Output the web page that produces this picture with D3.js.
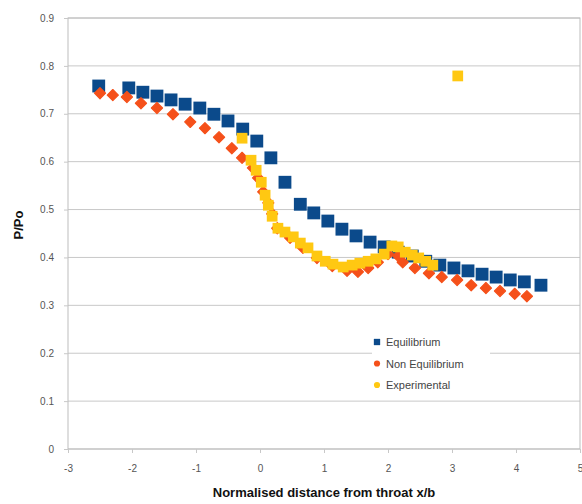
<!DOCTYPE html>
<html><head><meta charset="utf-8">
<script src="https://cdn.jsdelivr.net/npm/d3@7"></script>
<style>body{margin:0;background:#fff}svg{display:block}text{font-family:"Liberation Sans",Arial,sans-serif}</style>
</head><body>
<script>
const xTicks = [-3,-2,-1,0,1,2,3,4,5];
const yTicks = [0,0.1,0.2,0.3,0.4,0.5,0.6,0.7,0.8,0.9];
const seriesNames = ["Equilibrium","Non Equilibrium","Experimental"];

const eqX = [-2.52,-2.05,-1.83,-1.61,-1.39,-1.17,-0.94,-0.72,-0.50,-0.27,-0.05,0.17,0.39,0.63,0.84,1.06,1.28,1.50,1.72,1.94,2.16,2.38,2.59,2.81,3.03,3.25,3.47,3.69,3.91,4.13,4.39];
const eqY = [0.758,0.754,0.745,0.737,0.729,0.720,0.712,0.699,0.685,0.668,0.643,0.608,0.557,0.511,0.493,0.476,0.459,0.445,0.432,0.422,0.411,0.403,0.392,0.384,0.378,0.372,0.365,0.359,0.353,0.349,0.342];

const neX = [-2.50,-2.30,-2.08,-1.86,-1.61,-1.36,-1.09,-0.86,-0.64,-0.44,-0.28,-0.11,-0.03,0.05,0.13,0.19,0.27,0.47,0.67,0.89,1.13,1.36,1.53,1.69,1.84,2.00,2.16,2.23,2.42,2.64,2.84,3.08,3.30,3.53,3.75,3.98,4.17];
const neY = [0.743,0.739,0.735,0.722,0.712,0.699,0.683,0.670,0.651,0.628,0.608,0.587,0.566,0.537,0.514,0.491,0.461,0.441,0.420,0.399,0.382,0.372,0.370,0.378,0.390,0.407,0.403,0.390,0.378,0.367,0.359,0.353,0.342,0.336,0.330,0.324,0.319];

const exX = [-0.28,-0.14,-0.06,0.02,0.08,0.13,0.19,0.28,0.39,0.52,0.63,0.75,0.89,1.02,1.14,1.30,1.44,1.56,1.69,1.81,1.94,2.06,2.16,2.27,2.38,2.48,2.59,2.70,3.09];
const exY = [0.649,0.603,0.582,0.557,0.530,0.509,0.486,0.461,0.453,0.443,0.430,0.420,0.403,0.392,0.386,0.380,0.384,0.388,0.392,0.397,0.407,0.424,0.422,0.411,0.405,0.399,0.392,0.384,0.779];

const W = 582, H = 504;
const m = {l:68, r:2, t:18, b:55};
const svg = d3.select("body").append("svg").attr("width",W).attr("height",H);
const x = d3.scaleLinear().domain([-3,5]).range([m.l, W-m.r]);
const y = d3.scaleLinear().domain([0,0.9]).range([H-m.b, m.t]);

svg.append("g").selectAll("line").data(yTicks).join("line")
  .attr("x1",x(-3)).attr("x2",x(5)).attr("y1",d=>y(d)).attr("y2",d=>y(d))
  .attr("stroke","#c8c8c8").attr("stroke-width",1);
svg.append("rect").attr("x",x(-3)).attr("y",y(0.9)).attr("width",x(5)-x(-3)).attr("height",y(0)-y(0.9))
  .attr("fill","none").attr("stroke","#bdbdbd");

const fmtY = d => d===0 ? "0" : d3.format(".1f")(d);
const fmtX = d => String(d);
const yAxis = svg.append("g").attr("transform",`translate(${x(-3)},0)`)
  .call(d3.axisLeft(y).tickValues(yTicks).tickFormat(fmtY).tickSize(4).tickPadding(10));
const xAxis = svg.append("g").attr("transform",`translate(0,${y(0)})`)
  .call(d3.axisBottom(x).tickValues(xTicks).tickFormat(fmtX).tickSize(4).tickPadding(12));
[xAxis,yAxis].forEach(g=>{
  g.select(".domain").remove();
  g.selectAll(".tick line").attr("stroke","#c8c8c8");
  g.selectAll(".tick text").attr("fill","#555").style("font-size","10px");
});

const sq = d3.symbol().type(d3.symbolSquare);

const eq = eqX.map((v,i)=>[v,eqY[i]]);
const ne = neX.map((v,i)=>[v,neY[i]]);
const ex = exX.map((v,i)=>[v,exY[i]]);

svg.append("g").selectAll("path").data(eq).join("path")
  .attr("d",sq.size(165)()).attr("transform",d=>`translate(${x(d[0])},${y(d[1])})`)
  .attr("fill","#0b4a8b");
svg.append("g").selectAll("path").data(ne).join("path")
  .attr("d",sq.size(62)()).attr("transform",d=>`translate(${x(d[0])},${y(d[1])}) rotate(45)`)
  .attr("fill","#f5501a").attr("stroke","#f5501a").attr("stroke-width",1.2).attr("stroke-linejoin","round");
svg.append("g").selectAll("path").data(ex).join("path")
  .attr("d",sq.size(115)()).attr("transform",d=>`translate(${x(d[0])},${y(d[1])})`)
  .attr("fill","#ffc812");

const lg = svg.append("g").attr("transform","translate(372,331)");
lg.append("rect").attr("x",0).attr("y",0).attr("width",118).attr("height",64).attr("fill","#fff");
const legColors = ["#0b4a8b","#f5501a","#ffc812"];
const legSyms = [sq.size(40)(), d3.symbol().type(d3.symbolCircle).size(30)(), d3.symbol().type(d3.symbolCircle).size(30)()];
seriesNames.forEach((n,i)=>{
  const gy = 11 + i*21.5;
  lg.append("path").attr("d",legSyms[i]).attr("transform",`translate(5,${gy})`).attr("fill",legColors[i]);
  lg.append("text").attr("x",14).attr("y",gy+4).text(n).attr("fill","#444").style("font-size","11px");
});

svg.append("text").attr("x",(x(-3)+x(5))/2).attr("y",497).attr("text-anchor","middle")
  .style("font-size","13px").style("font-weight","bold").attr("fill","#111").text("Normalised distance from throat x/b");
svg.append("text").attr("transform","translate(23,225) rotate(-90)").attr("text-anchor","middle")
  .style("font-size","13px").style("font-weight","bold").attr("fill","#111").text("P/Po");
</script>
</body></html>
